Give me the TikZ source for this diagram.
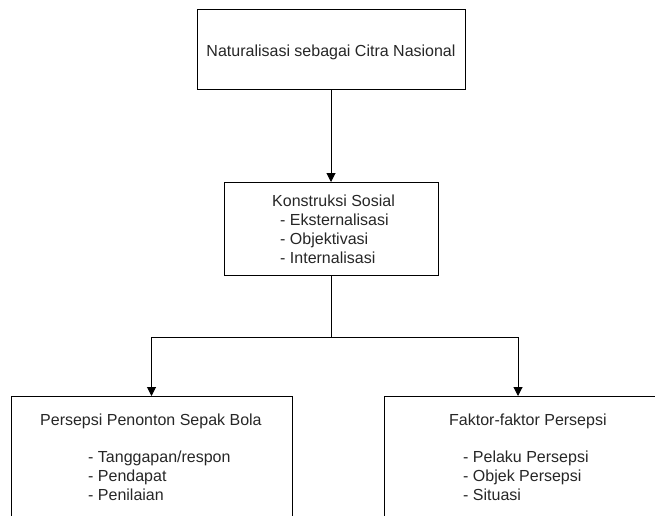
\documentclass[tikz,border=0pt]{standalone}
\usepackage{fontspec}
\setmainfont{Liberation Sans}
\usetikzlibrary{arrows.meta}
\begin{document}
\begin{tikzpicture}[x=1pt,y=-1pt,
  box/.style={draw, line width=1pt, inner sep=0pt, outer sep=0pt},
  txt/.style={font=\fontsize{16}{19}\selectfont, inner sep=0pt, anchor=base west, text=black!85},
  arr/.style={-{Triangle[length=9pt,width=9pt]}, line width=1pt},
  link/.style={line width=1pt}]
\useasboundingbox (0,0) rectangle (655,515);
\clip (0,0) rectangle (655,515);
% boxes
\node[box, minimum width=268pt, minimum height=80pt] (top) at (331,49) {};
\node[box, minimum width=214pt, minimum height=93pt] (mid) at (331,228.5) {};
\node[box, minimum width=281pt, minimum height=134pt] (left) at (151.5,463) {};
\node[box, minimum width=286pt, minimum height=134pt] (right) at (527,463) {};
% texts
\node[txt, anchor=base] (toptxt) at (331,56) {Naturalisasi sebagai Citra Nasional};
\node[txt] (m0) at (272,206.5) {Konstruksi Sosial};
\node[txt] (m1) at (280,225) {- Eksternalisasi};
\node[txt] (m2) at (280,244.5) {- Objektivasi};
\node[txt] (m3) at (280,263.5) {- Internalisasi};
\node[txt] (l0) at (40,425) {Persepsi Penonton Sepak Bola};
\node[txt] (l1) at (88,462.5) {- Tanggapan/respon};
\node[txt] (l2) at (88,481) {- Pendapat};
\node[txt] (l3) at (88,500) {- Penilaian};
\node[txt] (r0) at (449,425) {Faktor-faktor Persepsi};
\node[txt] (r1) at (463,462.5) {- Pelaku Persepsi};
\node[txt] (r2) at (463,481) {- Objek Persepsi};
\node[txt] (r3) at (463,500) {- Situasi};
% connectors
\draw[arr] (top) -- (mid);
\coordinate (split) at (331,337);
\coordinate (rin) at (518,396);
\draw[link] (mid.south) -- (split);
\draw[arr] (split) -| (left.north);
\draw[arr] (split) -| (rin);
\end{tikzpicture}
\end{document}
